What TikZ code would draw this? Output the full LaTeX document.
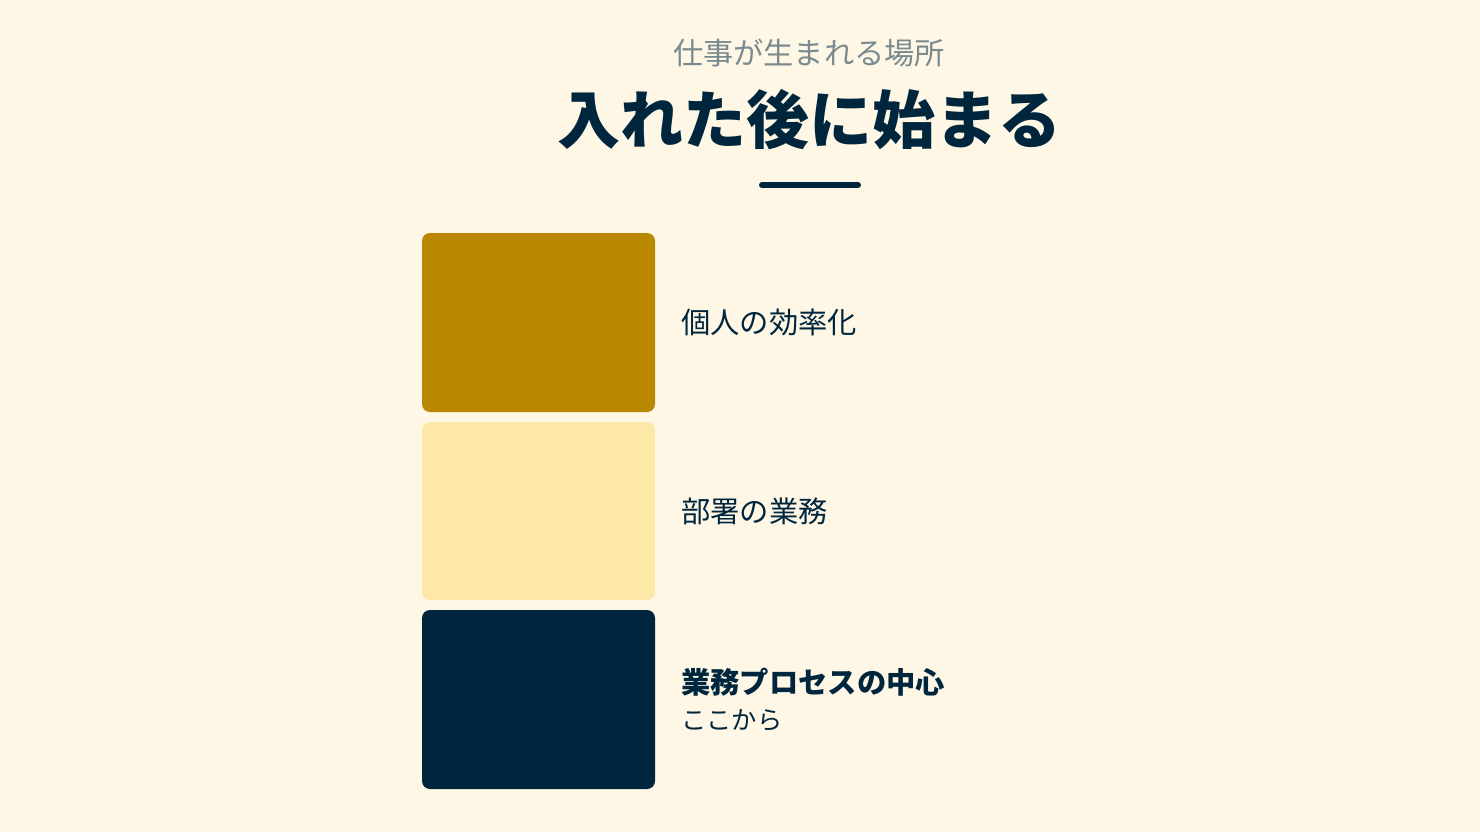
\documentclass[tikz,border=0pt]{standalone}
\usepackage{fontspec}
\setmainfont{Noto Sans CJK JP}
\newfontfamily\jp{Noto Sans CJK JP}
\definecolor{bg}{HTML}{FEF7E6}
\definecolor{gold}{HTML}{BA8800}
\definecolor{lightyel}{HTML}{FDE8A8}
\definecolor{navy}{HTML}{00263E}
\definecolor{subgray}{HTML}{7A8A8F}
\tikzset{
  block/.style={fill=#1, draw=none, rounded corners=8pt},
  lbl/.style={anchor=west, inner sep=0pt, text=navy, font=\jp\fontsize{29.3}{35}\selectfont},
  lblb/.style={anchor=west, inner sep=0pt, text=navy, font=\jp\bfseries\fontsize{29.3}{35}\selectfont},
}
\begin{document}
\begin{tikzpicture}[x=1pt,y=-1pt]
\fill[bg] (0,0) rectangle (1480,832);
\useasboundingbox (0,0) rectangle (1480,832);
\node[inner sep=0pt, text=subgray, font=\jp\fontsize{30.2}{36}\selectfont] (sub) at (809,53) {仕事が生まれる場所};
\node[inner sep=0pt, text=navy, font=\jp\bfseries\fontsize{63}{70}\selectfont] (title) at (809,120) {入れた後に始まる};
\coordinate (barl) at (762,185);
\coordinate (barr) at (858,185);
\draw[navy, line width=6pt, line cap=round] (barl) -- (barr);
\path[block=gold] (422,233) rectangle (655,412);
\path[block=lightyel] (422,422) rectangle (655,600);
\path[block=navy] (422,610) rectangle (655,789);
\node[lbl] (l1) at (681,322) {個人の効率化};
\node[lbl] (l2) at (681,511) {部署の業務};
\node[lblb] (l3) at (681,682) {業務プロセスの中心};
\node[lbl, font=\jp\fontsize{25.3}{31}\selectfont] (l4) at (681,720) {ここから};
\end{tikzpicture}
\end{document}
